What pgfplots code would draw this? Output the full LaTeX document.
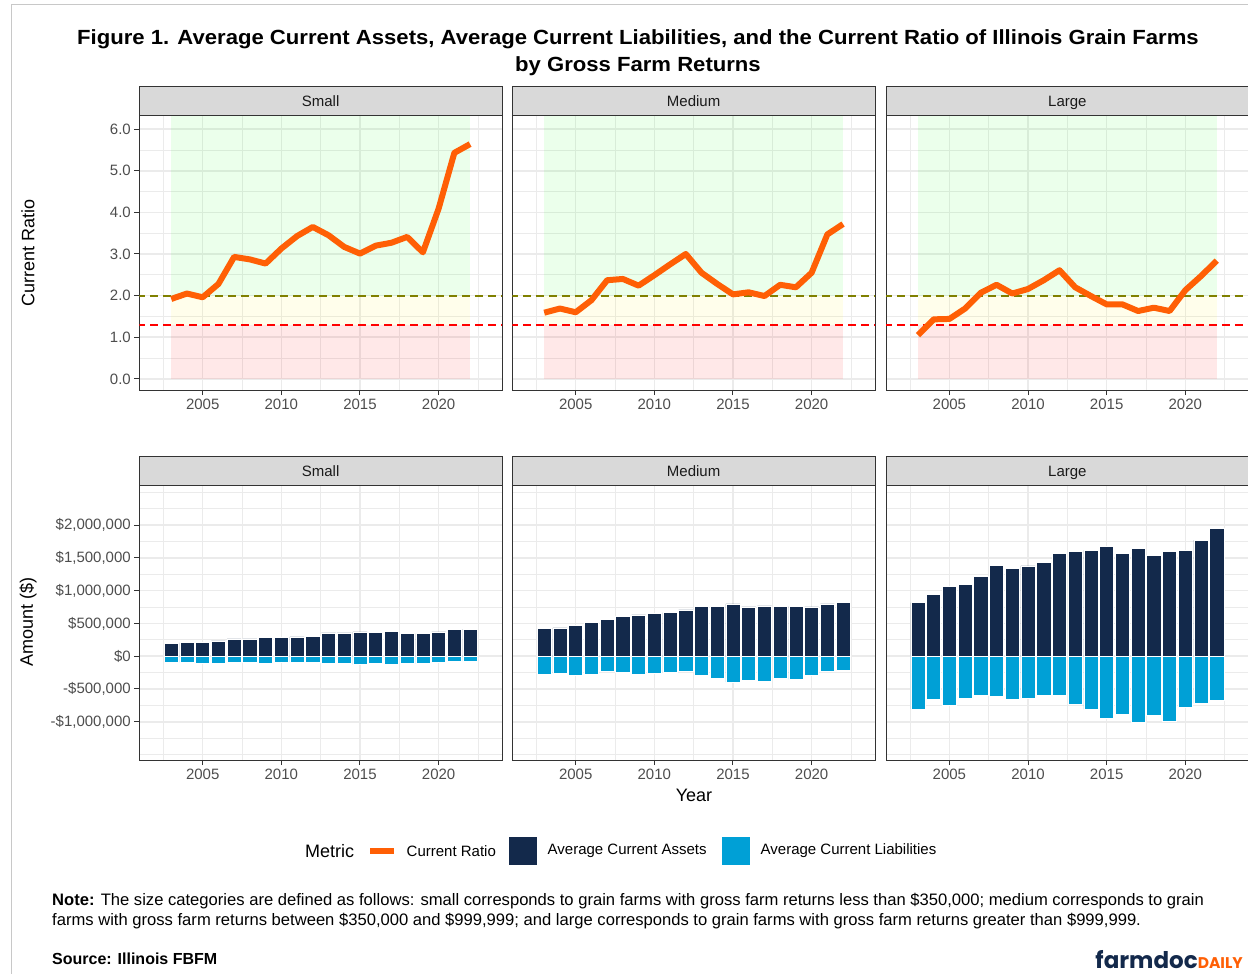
\documentclass[border=0pt]{standalone}
\usepackage{fontspec}
\setmainfont{Liberation Sans}
\newfontfamily\logofont{Poppins}
\usepackage{pgfplots}
\pgfplotsset{compat=1.18}
\usepackage{pgfplotstable}

\definecolor{navy}{RGB}{19,41,75}
\definecolor{ilorange}{RGB}{255,95,5}
\definecolor{lblue}{RGB}{0,160,214}
\definecolor{grey10}{RGB}{26,26,26}
\definecolor{grey20}{RGB}{51,51,51}
\definecolor{grey30}{RGB}{77,77,77}
\definecolor{grey85}{RGB}{217,217,217}
\definecolor{grey92}{RGB}{235,235,235}
\definecolor{olivel}{RGB}{128,128,0}
\definecolor{framegrey}{RGB}{200,200,200}
\newcommand\fs[2]{\fontsize{#1}{#2}\selectfont}

\pgfplotstableread{
year small medium large
2003 1.92 1.59 1.05
2004 2.05 1.69 1.43
2005 1.96 1.60 1.44
2006 2.28 1.89 1.69
2007 2.93 2.37 2.07
2008 2.87 2.40 2.26
2009 2.77 2.24 2.05
2010 3.13 2.49 2.16
2011 3.43 2.75 2.37
2012 3.65 3.00 2.61
2013 3.45 2.55 2.20
2014 3.17 2.28 1.99
2015 3.01 2.03 1.79
2016 3.20 2.08 1.79
2017 3.27 1.99 1.63
2018 3.41 2.26 1.71
2019 3.04 2.20 1.63
2020 4.09 2.55 2.13
2021 5.43 3.47 2.47
2022 5.64 3.72 2.84
}\ratio

\pgfplotstableread{
year sA sL mA mL lA lL
2003 193000 -96000 426000 -279000 817000 -807000
2004 208000 -96000 431000 -259000 939000 -660000
2005 213000 -107000 467000 -294000 1061000 -746000
2006 233000 -107000 513000 -279000 1101000 -650000
2007 264000 -86000 558000 -233000 1218000 -599000
2008 264000 -86000 604000 -249000 1386000 -619000
2009 289000 -107000 629000 -284000 1340000 -655000
2010 289000 -91000 650000 -264000 1376000 -640000
2011 294000 -86000 665000 -244000 1426000 -599000
2012 305000 -86000 706000 -228000 1574000 -599000
2013 355000 -102000 761000 -294000 1604000 -741000
2014 355000 -112000 761000 -340000 1614000 -812000
2015 370000 -127000 797000 -396000 1680000 -944000
2016 360000 -112000 751000 -365000 1574000 -883000
2017 376000 -117000 766000 -386000 1640000 -1015000
2018 350000 -102000 761000 -340000 1543000 -904000
2019 345000 -112000 761000 -355000 1604000 -990000
2020 370000 -91000 751000 -294000 1614000 -782000
2021 406000 -76000 797000 -228000 1772000 -721000
2022 411000 -76000 817000 -213000 1954000 -670000
}\amt

\pgfplotsset{
  panel/.style={scale only axis, width=362.7pt, height=274.5pt, anchor=north west,
    xmin=2000.97, xmax=2024.03,
    xtick={2005,2010,2015,2020}, xticklabels={2005,2010,2015,2020},
    minor xtick={2002.5,2007.5,2012.5,2017.5,2022.5},
    grid=both,
    major grid style={grey92, line width=1.6pt},
    minor grid style={grey92, line width=0.8pt},
    axis line style={grey20, line width=1pt},
    tick align=outside, tick pos=left,
    major tick length=5pt, minor tick length=0pt,
    tick style={grey20, line width=1pt},
    tick label style={font=\fs{15}{18}, text=grey30},
  },
  toppanel/.style={panel, ymin=-0.272, ymax=6.322, ytick={0,1,2,3,4,5,6},
    minor ytick={0.5,1.5,2.5,3.5,4.5,5.5}},
  botpanel/.style={panel, ymin=-1584000, ymax=2604000,
    ytick={-1000000,-500000,0,500000,1000000,1500000,2000000},
    minor ytick={-1500000,-1250000,-750000,-250000,250000,750000,1250000,1750000,2250000,2500000}},
  noylab/.style={yticklabels={}, ytick style={draw=none}},
}

\newcommand\zones{%
  \fill[green, fill opacity=0.08] (axis cs:2003,2) rectangle (axis cs:2022,7);
  \fill[yellow, fill opacity=0.08] (axis cs:2003,1.3) rectangle (axis cs:2022,2);
  \fill[red, fill opacity=0.09] (axis cs:2003,0) rectangle (axis cs:2022,1.3);
  \addplot[olivel, line width=1.8pt, dash pattern=on 8pt off 5pt] coordinates {(2000,2) (2025,2)};
  \addplot[red, line width=1.8pt, dash pattern=on 8pt off 5pt] coordinates {(2000,1.3) (2025,1.3)};
}
\newcommand\strip[3]{%
  \draw[fill=grey85, draw=grey20, line width=1pt] (#1pt,-#2pt) rectangle ++(362.7pt,-29.5pt);
  \node[font=\fs{15}{18}, text=grey10, anchor=base, inner sep=0pt] at ([xshift=181.35pt,yshift=-20.2pt]#1pt,-#2pt) {#3};
}

\begin{document}
\begin{tikzpicture}
\useasboundingbox (0,0) rectangle (1248pt,-974pt);
\draw[framegrey, line width=1pt] (11.5pt,-974pt) -- (11.5pt,-5pt) -- (1260pt,-5pt);

\node[font=\bfseries\fs{20.5}{27}, align=center, transform shape, xscale=1.078] at (638pt,-52.5pt)
  {Figure 1. Average Current Assets, Average Current Liabilities, and the Current Ratio of Illinois Grain Farms\\by Gross Farm Returns};

% ---------- top row ----------
\begin{axis}[toppanel, at={(139.3pt,-115.7pt)}, yticklabels={0.0,1.0,2.0,3.0,4.0,5.0,6.0}]
  \zones
  \addplot[ilorange, line width=6pt, line join=round] table[x=year, y=small] {\ratio};
\end{axis}
\begin{axis}[toppanel, noylab, at={(512.3pt,-115.7pt)}]
  \zones
  \addplot[ilorange, line width=6pt, line join=round] table[x=year, y=medium] {\ratio};
\end{axis}
\begin{axis}[toppanel, noylab, at={(886pt,-115.7pt)}]
  \zones
  \addplot[ilorange, line width=6pt, line join=round] table[x=year, y=large] {\ratio};
\end{axis}
\strip{139.3}{86.2}{Small}
\strip{512.3}{86.2}{Medium}
\strip{886}{86.2}{Large}

% ---------- bottom row ----------
\begin{axis}[botpanel, at={(139.3pt,-485.5pt)},
  yticklabels={{-\$1,000,000},{-\$500,000},{\$0},{\$500,000},{\$1,000,000},{\$1,500,000},{\$2,000,000}}]
  \addplot[ybar, bar width=0.9, bar shift=0pt, fill=navy, draw=white, line width=0.6pt] table[x=year, y=sA] {\amt};
  \addplot[ybar, bar width=0.9, bar shift=0pt, fill=lblue, draw=white, line width=0.6pt] table[x=year, y=sL] {\amt};
\end{axis}
\begin{axis}[botpanel, noylab, at={(512.3pt,-485.5pt)}]
  \addplot[ybar, bar width=0.9, bar shift=0pt, fill=navy, draw=white, line width=0.6pt] table[x=year, y=mA] {\amt};
  \addplot[ybar, bar width=0.9, bar shift=0pt, fill=lblue, draw=white, line width=0.6pt] table[x=year, y=mL] {\amt};
\end{axis}
\begin{axis}[botpanel, noylab, at={(886pt,-485.5pt)}]
  \addplot[ybar, bar width=0.9, bar shift=0pt, fill=navy, draw=white, line width=0.6pt] table[x=year, y=lA] {\amt};
  \addplot[ybar, bar width=0.9, bar shift=0pt, fill=lblue, draw=white, line width=0.6pt] table[x=year, y=lL] {\amt};
\end{axis}
\strip{139.3}{456}{Small}
\strip{512.3}{456}{Medium}
\strip{886}{456}{Large}

% axis titles
\node[rotate=90, font=\fs{18}{22}] at (28pt,-253pt) {Current Ratio};
\node[rotate=90, font=\fs{18}{22}] at (28pt,-622pt) {Amount (\$)};
\node[font=\fs{18}{22}] at (694pt,-795pt) {Year};

% legend
\node[font=\fs{18}{22}, anchor=west, inner sep=0pt] at (305pt,-851pt) {Metric};
\draw[ilorange, line width=6pt] (370pt,-851pt) -- (394pt,-851pt);
\node[font=\fs{15}{18}, anchor=west, inner sep=0pt] at (406.5pt,-851pt) {Current Ratio};
\fill[navy] (509pt,-837pt) rectangle (536.5pt,-865pt);
\node[font=\fs{15}{18}, anchor=west, inner sep=0pt] at (547.5pt,-851pt) {Average Current Assets};
\fill[lblue] (722pt,-837pt) rectangle (749.5pt,-865pt);
\node[font=\fs{15}{18}, anchor=west, inner sep=0pt] at (760.5pt,-851pt) {Average Current Liabilities};

% note & source
\node[anchor=north west, inner sep=0pt, align=left, font=\fs{16.6}{19.5}] at (52pt,-893.5pt)
  {\textbf{Note:} The size categories are defined as follows: small corresponds to grain farms with gross farm returns less than \$350,000; medium corresponds to grain\\
   farms with gross farm returns between \$350,000 and \$999,999; and large corresponds to grain farms with gross farm returns greater than \$999,999.};
\node[anchor=west, inner sep=0pt, font=\bfseries\fs{16}{19}] at (52pt,-959pt) {Source: Illinois FBFM};

% logo
\node[anchor=base east, inner sep=0pt] at (1243pt,-968pt)
  {{\logofont\bfseries\color{navy}\fs{23}{23}farmdoc}{\logofont\bfseries\color{ilorange}\fs{15.5}{15.5}DAILY}};
\end{tikzpicture}
\end{document}
